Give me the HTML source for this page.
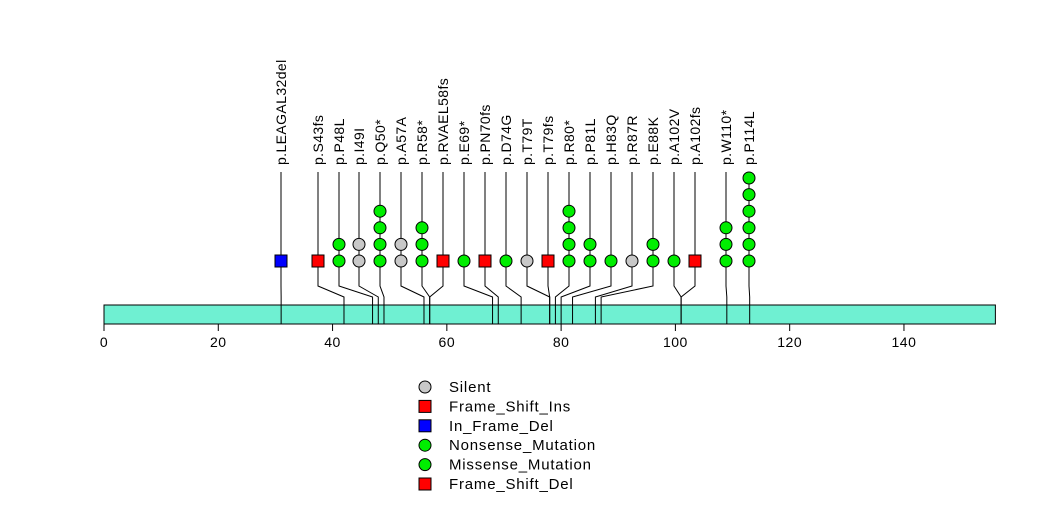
<!DOCTYPE html>
<html><head><meta charset="utf-8"><style>
html,body{margin:0;padding:0;background:#fff;}
svg{display:block;font-family:"Liberation Sans",Arial,sans-serif;}
</style></head><body>
<svg id="chart" width="1047" height="524" viewBox="0 0 1047 524" xmlns="http://www.w3.org/2000/svg">
<g id="axis"></g>
<g id="marks"></g>
<g id="legend"></g>
</svg>
<script>
const labels = ["p.LEAGAL32del","p.S43fs","p.P48L","p.I49I","p.Q50*","p.A57A","p.R58*","p.RVAEL58fs","p.E69*","p.PN70fs","p.D74G","p.T79T","p.T79fs","p.R80*","p.P81L","p.H83Q","p.R87R","p.E88K","p.A102V","p.A102fs","p.W110*","p.P114L"];
const positions = [32,43,48,49,50,57,58,58,69,70,74,79,79,80,81,83,87,88,102,102,110,114];
const counts = [1,1,2,2,4,2,3,1,1,1,1,1,1,4,2,1,1,2,1,1,3,6];
const types = ["In_Frame_Del","Frame_Shift_Ins","Missense_Mutation","Silent","Nonsense_Mutation","Silent","Nonsense_Mutation","Frame_Shift_Del","Nonsense_Mutation","Frame_Shift_Del","Missense_Mutation","Silent","Frame_Shift_Del","Nonsense_Mutation","Missense_Mutation","Missense_Mutation","Silent","Missense_Mutation","Missense_Mutation","Frame_Shift_Del","Nonsense_Mutation","Missense_Mutation"];
const labelCols = [281,318,339,359,380,401,422,443,464,485,506,527,548,569,590,611,632,653,674,695,726,749];
const ticks = [0,20,40,60,80,100,120,140];
const proteinLength = 156;
const legendNames = ["Silent","Frame_Shift_Ins","In_Frame_Del","Nonsense_Mutation","Missense_Mutation","Frame_Shift_Del"];

const styles = {
 Silent:{shape:"circle",fill:"#c8c8c8"},
 Frame_Shift_Ins:{shape:"square",fill:"#ff0000"},
 In_Frame_Del:{shape:"square",fill:"#0000ff"},
 Nonsense_Mutation:{shape:"circle",fill:"#00ee00"},
 Missense_Mutation:{shape:"circle",fill:"#00ee00"},
 Frame_Shift_Del:{shape:"square",fill:"#ff0000"}
};
const NS="http://www.w3.org/2000/svg";
const x0=104, scale=5.714;
function xScale(p){return x0+(p-1)*scale;}
function xTick(v){return x0+v*scale;}
function yStack(i){return 261-i*16.6;}
function mk(tag,attrs,parent){const e=document.createElementNS(NS,tag);for(const k in attrs)e.setAttribute(k,attrs[k]);parent.appendChild(e);return e;}
function marker(st,cx,cy,parent){
 if(st.shape==="circle") return mk("circle",{cx:cx,cy:cy,r:6,fill:st.fill,stroke:"#000","stroke-width":1},parent);
 return mk("rect",{x:cx-6,y:cy-6,width:12,height:12,fill:st.fill,stroke:"#000","stroke-width":1},parent);
}
const axis=document.getElementById('axis');
const bar=mk("rect",{x:x0,y:305,width:xTick(proteinLength)-x0,height:19,fill:"#6ff0d2",stroke:"#000","stroke-width":1},axis);


ticks.forEach(v=>{
 const tx=xTick(v);
 const tl=mk("line",{x1:tx,y1:324,x2:tx,y2:331,stroke:"#000"},axis);
 
 
 const t=mk("text",{x:tx,y:347,"text-anchor":"middle","font-size":14,"letter-spacing":0.5},axis);
 t.textContent=v;
 
 
});
const marks=document.getElementById('marks');
labels.forEach((lab,i)=>{
 const g=mk("g",{},marks);
 
 
 const lx=labelCols[i], px=xScale(positions[i]);
 mk("polyline",{points:`${lx},172 ${lx},286 ${px},297 ${px},324`,fill:"none",stroke:"#000","stroke-width":1},g);
 const st=styles[types[i]];
 for(let k=0;k<counts[i];k++){
  const m=marker(st,lx,yStack(k),g);
  
  
 }
 const t=mk("text",{x:0,y:0,"font-size":14,"letter-spacing":0.4,transform:`translate(${lx+5},165) rotate(-90)`},g);
 t.textContent=lab;
 
 
});
const leg=document.getElementById('legend');
legendNames.forEach((n,i)=>{
 const y=387+i*19.4;
 const g=mk("g",{},leg);
 
 
 marker(styles[n],425,y,g);
 const t=mk("text",{x:449,y:y+5,"font-size":15,"letter-spacing":0.8},g);
 t.textContent=n;
});
</script>
</body></html>
